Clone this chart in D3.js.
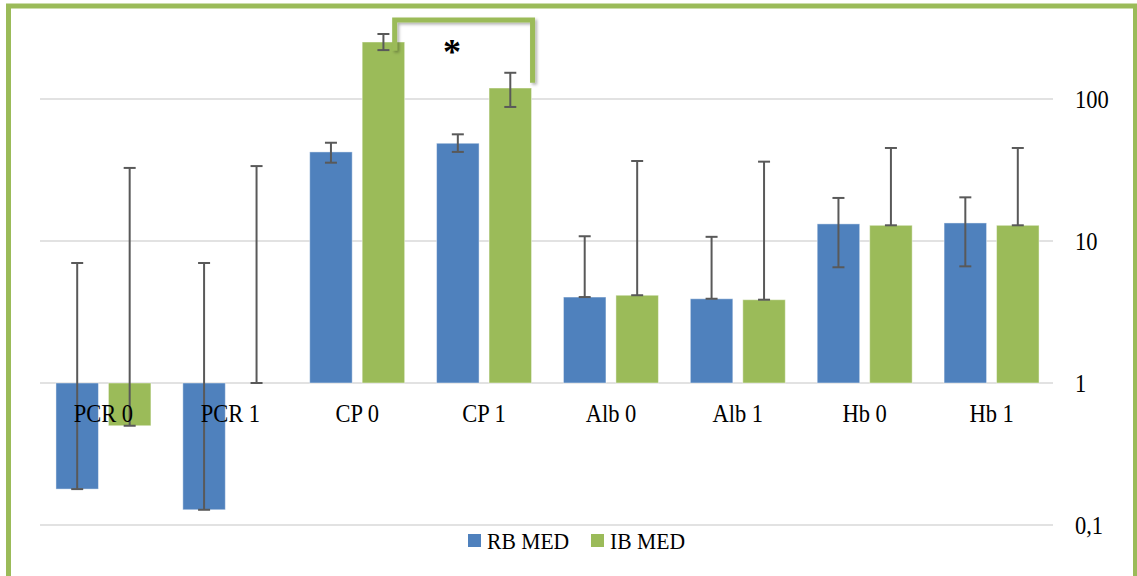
<!DOCTYPE html>
<html>
<head>
<meta charset="utf-8">
<script src="https://cdn.jsdelivr.net/npm/d3@7"></script>
<style>
  html, body { margin: 0; padding: 0; background: #ffffff; }
  svg { display: block; }
  text { font-family: "Liberation Serif", "DejaVu Serif", serif; fill: #000; }
</style>
</head>
<body>
<svg id="chart" width="1137" height="576"></svg>
<script>
// Categories and series (medians, log axis based at 1)
const categories = ["PCR 0", "PCR 1", "CP 0", "CP 1", "Alb 0", "Alb 1", "Hb 0", "Hb 1"];
const seriesNames = ["RB MED", "IB MED"];

const rbValues = [0.179, 0.128, 42.4, 48.8, 4.03, 3.92, 13.2, 13.4];
const ibValues = [0.50, 1.0, 252, 119.5, 4.15, 3.86, 12.9, 12.9];

// Error bar ends (low, high)
const rbErrLow  = [0.179, 0.128, 35.6, 42.4, 4.03, 3.92, 6.53, 6.63];
const rbErrHigh = [7.0, 7.0, 49.2, 56.4, 10.8, 10.7, 20.1, 20.3];
const ibErrLow  = [0.50, 1.0, 221, 87.9, 4.15, 3.86, 12.9, 12.9];
const ibErrHigh = [32.7, 33.7, 287, 153, 36.6, 36.2, 45.2, 45.2];

const tickValues = [0.1, 1, 10, 100];
const tickLabels = ["0,1", "1", "10", "100"];

const colors = { "RB MED": "#4F81BD", "IB MED": "#9BBB59" };

const svg = d3.select("#chart");

const plot = { left: 40, right: 1055, top: 99, bottom: 525 };
const fontSize = 25;
const squeeze = 0.9; // slightly condensed lettering

const x = d3.scaleBand().domain(categories).range([plot.left, plot.right]).paddingInner(0).paddingOuter(0);
const xSub = d3.scaleBand().domain(seriesNames).range([0, x.bandwidth()]).paddingInner(0.19).paddingOuter(0.304);
const y = d3.scaleLog().domain([0.1, 100]).range([plot.bottom, plot.top]);

// drop shadow for the significance bracket
const defs = svg.append("defs");
const f = defs.append("filter").attr("id", "shadow").attr("x", "-20%").attr("y", "-20%").attr("width", "140%").attr("height", "140%");
f.append("feDropShadow").attr("dx", 2).attr("dy", 2).attr("stdDeviation", 1.8)
  .attr("flood-color", "#000").attr("flood-opacity", 0.3);

// gridlines
svg.append("g")
  .selectAll("line")
  .data(tickValues)
  .join("line")
  .attr("x1", plot.left).attr("x2", plot.right - 2)
  .attr("y1", d => y(d)).attr("y2", d => y(d))
  .attr("stroke", "#d9d9d9").attr("stroke-width", 1.5);

// right-hand axis labels
const yAxis = d3.axisRight(y).tickValues(tickValues).tickSize(0).tickPadding(0)
  .tickFormat((d, i) => tickLabels[i]);
const ya = svg.append("g").attr("transform", `translate(1075,0)`).call(yAxis);
ya.select(".domain").remove();
ya.selectAll("text")
  .attr("font-size", fontSize).attr("font-family", "Liberation Serif").attr("fill", "#000")
  .attr("x", null).attr("dy", null)
  .attr("transform", function () {
    return `translate(0,8) scale(${squeeze},1)`;
  });

// rows of data
const rows = categories.map((c, i) => ({
  cat: c,
  vals: [
    { s: "RB MED", v: rbValues[i], lo: rbErrLow[i], hi: rbErrHigh[i] },
    { s: "IB MED", v: ibValues[i], lo: ibErrLow[i], hi: ibErrHigh[i] }
  ]
}));

const groups = svg.append("g").selectAll("g")
  .data(rows).join("g")
  .attr("transform", d => `translate(${x(d.cat)},0)`);

// bars grow from the axis crossing at 1
groups.selectAll("rect")
  .data(d => d.vals)
  .join("rect")
  .attr("x", d => xSub(d.s))
  .attr("width", xSub.bandwidth())
  .attr("y", d => Math.min(y(d.v), y(1)))
  .attr("height", d => Math.abs(y(d.v) - y(1)))
  .attr("fill", d => colors[d.s])
  .attr("stroke", "rgba(255,255,255,0.45)")
  .attr("stroke-width", 1);

// category labels next to the axis
svg.append("g").selectAll("text")
  .data(categories).join("text")
  .attr("transform", d => `translate(${x(d) + x.bandwidth() / 2},${y(1) + 39}) scale(${squeeze},1)`)
  .attr("text-anchor", "middle")
  .attr("font-size", fontSize)
  .text(d => d);

// error bars
const eb = groups.selectAll("g.err")
  .data(d => d.vals)
  .join("g").attr("class", "err")
  .attr("transform", d => `translate(${xSub(d.s) + xSub.bandwidth() / 2},0)`)
  .attr("stroke", "#595959").attr("stroke-width", 2);
eb.append("line").attr("x1", 0).attr("x2", 0).attr("y1", d => y(d.lo)).attr("y2", d => y(d.hi));
eb.append("line").attr("x1", -6).attr("x2", 6).attr("y1", d => y(d.hi)).attr("y2", d => y(d.hi));
eb.append("line").attr("x1", -6).attr("x2", 6).attr("y1", d => y(d.lo)).attr("y2", d => y(d.lo));

// significance bracket between CP 0 and CP 1 (IB MED)
const bx1 = x("CP 0") + xSub("IB MED") + xSub.bandwidth() - 10;
const bx2 = x("CP 1") + xSub("IB MED") + xSub.bandwidth() + 1;
svg.append("path")
  .attr("d", `M${bx1},${y(220)} V20 H${bx2} V${y(130)}`)
  .attr("fill", "none")
  .attr("stroke", "#9BBB59")
  .attr("stroke-width", 5)
  .attr("filter", "url(#shadow)");
svg.append("text")
  .attr("x", 452)
  .attr("y", 64)
  .attr("text-anchor", "middle")
  .attr("font-size", 36)
  .attr("font-weight", "bold")
  .text("*");

// legend
const legend = svg.append("g");
const legendItems = [{ s: "RB MED", x: 468 }, { s: "IB MED", x: 591 }];
legend.selectAll("rect").data(legendItems).join("rect")
  .attr("x", d => d.x).attr("y", 534).attr("width", 13).attr("height", 13)
  .attr("fill", d => colors[d.s]);
legend.selectAll("text").data(legendItems).join("text")
  .attr("transform", d => `translate(${d.x + 19},549) scale(${squeeze},1)`)
  .attr("font-size", fontSize - 1)
  .text(d => d.s);

// chart frame
svg.append("rect")
  .attr("x", 8.5).attr("y", 6).attr("width", 1127).attr("height", 600)
  .attr("fill", "none").attr("stroke", "#9BBB59").attr("stroke-width", 5);
</script>
</body>
</html>
